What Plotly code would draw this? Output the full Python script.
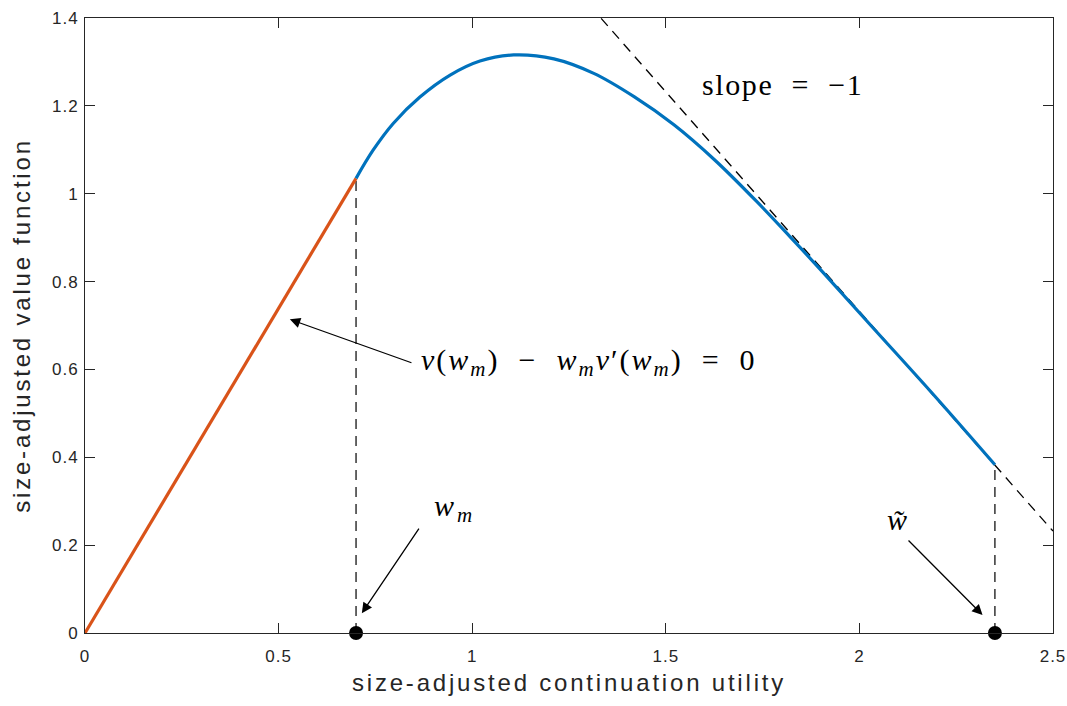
import plotly.graph_objects as go

# ---- data ----
linear_x = [0.0, 0.70]
linear_y = [0.0, 1.035]

curve_x = [0.700, 0.744, 0.796, 0.865, 0.943, 1.020, 1.107, 1.211, 1.314, 1.418,
           1.521, 1.625, 1.734, 1.820, 1.906, 2.035, 2.195, 2.350]
curve_y = [1.035, 1.099, 1.160, 1.220, 1.270, 1.302, 1.316, 1.307, 1.274, 1.221,
           1.157, 1.078, 0.983, 0.903, 0.821, 0.695, 0.539, 0.383]

slope_x = [1.333, 2.50]
slope_y = [1.399, 0.232]

w_m = 0.70
v_wm = 1.035
w_tilde = 2.35
v_wtilde = 0.383

x_ticks = [0, 0.5, 1, 1.5, 2, 2.5]
x_tick_labels = ["0", "0.5", "1", "1.5", "2", "2.5"]
y_ticks = [0, 0.2, 0.4, 0.6, 0.8, 1.0, 1.2, 1.4]
y_tick_labels = ["0", "0.2", "0.4", "0.6", "0.8", "1", "1.2", "1.4"]

BLUE = "#0072BD"
ORANGE = "#D95319"
AX = "#262626"
SERIF = "Liberation Serif, Times New Roman, serif"
NB = "\u00a0"


def spaced(txt, px):
    return f"<span style='letter-spacing:{px}px'>{txt}</span>"


fig = go.Figure()

fig.add_trace(go.Scatter(x=slope_x, y=slope_y, mode="lines",
                         line=dict(color="black", width=1.3, dash="10px,7px")))
fig.add_trace(go.Scatter(x=[w_m, w_m], y=[0, v_wm], mode="lines",
                         line=dict(color="black", width=1.2, dash="10px,7px")))
fig.add_trace(go.Scatter(x=[w_tilde, w_tilde], y=[0, v_wtilde], mode="lines",
                         line=dict(color="black", width=1.2, dash="10px,7px")))
fig.add_trace(go.Scatter(x=linear_x, y=linear_y, mode="lines",
                         line=dict(color=ORANGE, width=3.2)))
fig.add_trace(go.Scatter(x=curve_x, y=curve_y, mode="lines",
                         line=dict(color=BLUE, width=3.2, shape="spline", smoothing=1.0)))
fig.add_trace(go.Scatter(x=[w_m, w_tilde], y=[0, 0], mode="markers", cliponaxis=False,
                         marker=dict(color="black", size=14)))

MF = dict(family=SERIF, size=30, color="black")
annos = []
annos.append(dict(x=1.802, y=1.248, xref="x", yref="y", showarrow=False,
                  text=spaced(f"slope{NB}{NB}={NB}{NB}\u22121", 1.6), font=MF))
eq = (f"<i>v</i>(<i>w</i><sub><i>m</i></sub>){NB}{NB}\u2212{NB}{NB}<i>w</i><sub><i>m</i></sub>"
      f"<i>v</i>\u2032(<i>w</i><sub><i>m</i></sub>){NB}{NB}={NB}{NB}0")
annos.append(dict(x=0.862, y=0.618, xref="x", yref="y", showarrow=False, xanchor="left",
                  text=spaced(eq, 2.0), font=MF))
annos.append(dict(x=0.955, y=0.285, xref="x", yref="y", showarrow=False,
                  text=spaced("<i>w</i><sub><i>m</i></sub>", 3), font=MF))
annos.append(dict(x=2.096, y=0.258, xref="x", yref="y", showarrow=False,
                  text="<i>w\u0303</i>", font=MF))
# arrows
for (tx, ty, hx, hy) in [(0.847, 0.614, 0.529, 0.714),
                         (0.865, 0.241, 0.715, 0.045),
                         (2.123, 0.214, 2.318, 0.041)]:
    annos.append(dict(x=hx, y=hy, ax=tx, ay=ty, xref="x", yref="y", axref="x", ayref="y",
                      text="", showarrow=True, arrowhead=2, arrowsize=1.6, arrowwidth=1.3,
                      arrowcolor="black"))

fig.update_layout(
    width=1067, height=706,
    margin=dict(l=85, r=14, t=18, b=73),
    paper_bgcolor="white", plot_bgcolor="white",
    showlegend=False,
    annotations=annos,
    font=dict(family="Liberation Sans, Arial, sans-serif", color=AX),
)
fig.update_xaxes(range=[0, 2.5], tickvals=x_ticks,
                 ticktext=[spaced(t, 1) for t in x_tick_labels],
                 ticks="inside", ticklen=10, tickwidth=1, tickcolor=AX,
                 showline=True, linecolor=AX, linewidth=1, mirror="ticks",
                 showgrid=False, zeroline=False, automargin=False,
                 ticklabelstandoff=8,
                 tickfont=dict(size=17, color=AX),
                 title=dict(text=spaced("size-adjusted continuation utility", 2.8),
                            font=dict(size=24, color=AX), standoff=8))
fig.update_yaxes(range=[0, 1.4], tickvals=y_ticks,
                 ticktext=[spaced(t, 1) for t in y_tick_labels],
                 ticks="inside", ticklen=10, tickwidth=1, tickcolor=AX,
                 showline=True, linecolor=AX, linewidth=1, mirror="ticks",
                 showgrid=False, zeroline=False, automargin=False,
                 ticklabelstandoff=2,
                 tickfont=dict(size=17, color=AX),
                 title=dict(text=spaced("size-adjusted value function", 2.8),
                            font=dict(size=24, color=AX), standoff=14))

fig.write_html("out.html")
